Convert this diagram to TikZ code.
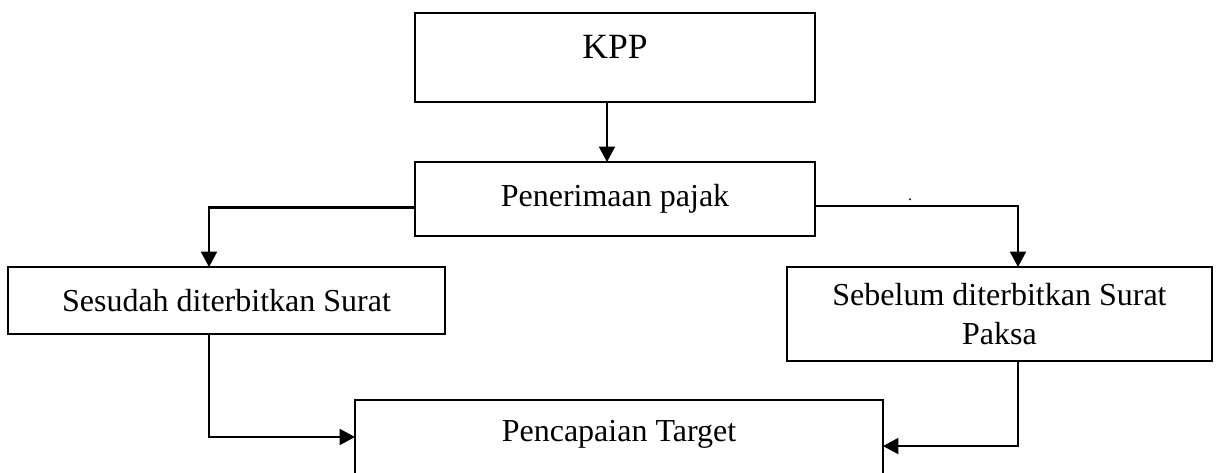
\documentclass[tikz,border=0pt]{standalone}
\usepackage{fontspec}
\setmainfont{Liberation Serif}
\usetikzlibrary{arrows.meta}
\begin{document}
\begin{tikzpicture}[x=0.375pt,y=-0.375pt,
  box/.style={draw,line width=0.9pt,rectangle,inner sep=0pt,outer sep=0pt,align=center,font=\fontsize{12}{14.6}\selectfont},
  conn/.style={line width=0.85pt,-{Triangle[length=5.8pt,width=6pt]}}]
\clip (0,0) rectangle (1216,473);
\node[box,minimum width=150pt,minimum height=33.4pt,
  label={[yshift=4.1pt,font=\fontsize{13.3}{16}\selectfont]center:KPP}] (kpp) at (615,57.5) {};
\node[box,minimum width=150pt,minimum height=27.75pt] (pen) at (615,199) {Penerimaan pajak};
\node[box,minimum width=163.9pt,minimum height=25.1pt] (ses) at (226.5,300.5) {Sesudah diterbitkan Surat};
\node[box,minimum width=159.4pt,minimum height=35.25pt] (seb) at (999.5,314) {Sebelum diterbitkan Surat\\Paksa};
\node[box,minimum width=198pt,minimum height=33.75pt,
  label={[yshift=3.9pt,font=\fontsize{12}{14.6}\selectfont]center:Pencapaian Target}] (pcp) at (619,445) {};
\node[anchor=base,inner sep=0pt,font=\fontsize{6}{7}\selectfont] (dot) at (910,201) {.};
\draw[conn] ([xshift=-3pt]kpp.south) -- ([xshift=-3pt]pen.north);
\draw[conn] ([yshift=-3.2pt]pen.west) -| ([xshift=-6.56pt]ses.north);
\draw[conn] ([yshift=-2.6pt]pen.east) -| ([xshift=6.94pt]seb.north);
\draw[conn] ([xshift=-6.56pt]ses.south) |- ([yshift=3pt]pcp.west);
\draw[conn] ([xshift=6.94pt]seb.south) |- ([yshift=-0.4pt]pcp.east);
\end{tikzpicture}
\end{document}
